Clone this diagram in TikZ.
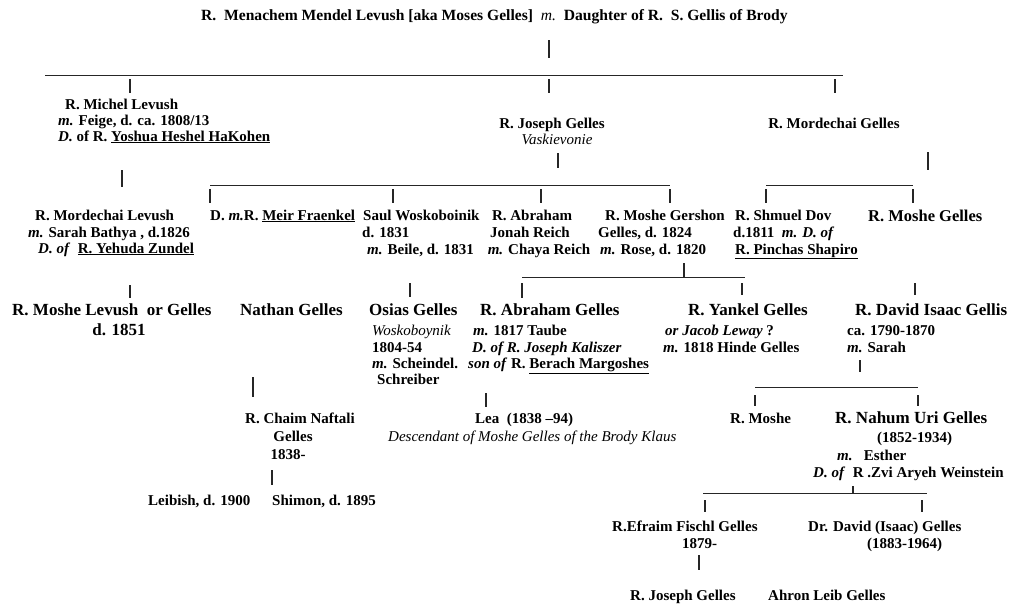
\documentclass[tikz,border=0pt]{standalone}
\usepackage{fontspec}
\setmainfont{Liberation Serif}
\newcommand{\vtk}[4]{\coordinate (#1t) at (#2,#3); \coordinate (#1b) at (#2,#4); \draw[tk] (#1t) -- (#1b);}
\newcommand{\hln}[4]{\coordinate (#1l) at (#2,#4); \coordinate (#1r) at (#3,#4); \draw[ln] (#1l) -- (#1r);}
\begin{document}
\begin{tikzpicture}[x=1pt,y=-1pt,
  t/.style={anchor=base west, inner sep=0pt, font=\fontsize{15}{18}\selectfont\bfseries},
  tc/.style={anchor=base, inner sep=0pt, font=\fontsize{15}{18}\selectfont\bfseries},
  big/.style={anchor=base west, inner sep=0pt, font=\fontsize{17}{20}\selectfont\bfseries},
  bigc/.style={anchor=base, inner sep=0pt, font=\fontsize{17}{20}\selectfont\bfseries},
  it/.style={anchor=base west, inner sep=0pt, font=\fontsize{15}{18}\selectfont\itshape},
  ln/.style={line width=0.8pt, black!85},
  tk/.style={line width=1.2pt, black!85}]
\useasboundingbox (0,0) rectangle (1011,605);

% ---- generation 0
\node[t, font=\fontsize{15.6}{18}\selectfont\bfseries] (title) at (201,20) {R.\ \ Menachem Mendel Levush [aka Moses Gelles]\ \ \textit{\mdseries m.}\ \ Daughter of R.\ \ S. Gellis of Brody};
\vtk{v0}{549}{40}{58}
\hln{h1}{45}{843}{75}
\vtk{v1a}{130}{79}{93}
\vtk{v1b}{549}{79}{93}
\vtk{v1c}{835}{79}{93}

% ---- generation 1
\node[t] (mi1) at (65,109) {R. Michel Levush};
\node[t] (mi2) at (58,125) {\textit{m.} Feige, d. ca. 1808/13};
\node[t] (mi3) at (58,141) {\textit{D.} of R. \underline{Yoshua Heshel HaKohen}};
\node[tc] (jo1) at (552,128) {R. Joseph Gelles};
\node[tc, font=\fontsize{15}{18}\selectfont\itshape] (jo2) at (557,144) {Vaskievonie};
\node[tc] (mo1) at (834,128) {R. Mordechai Gelles};

\vtk{v2a}{122}{170}{187}
\vtk{v2b}{558}{153}{168}
\vtk{v2c}{928}{152}{170}
\hln{h2}{210}{670}{185}
\vtk{v3a}{210}{189}{203}
\vtk{v3b}{393}{189}{203}
\vtk{v3c}{541}{189}{203}
\vtk{v3d}{670}{189}{203}
\hln{h3}{766}{913}{185}
\vtk{v3e}{766}{189}{203}
\vtk{v3f}{913}{189}{203}

% ---- generation 2
\node[t] (ml1) at (35,220) {R. Mordechai Levush};
\node[t] (ml2) at (28,237) {\textit{m.} Sarah Bathya , d.1826};
\node[t] (ml3) at (38,253) {\textit{D. of}\ \ \underline{R. Yehuda Zundel}};
\node[t] (dm) at (210,220) {D. \textit{m.}R. \underline{Meir Fraenkel}};
\node[t] (sa1) at (363,220) {Saul Woskoboinik};
\node[t] (sa2) at (362,237) {d. 1831};
\node[t] (sa3) at (367,254) {\textit{m.} Beile, d. 1831};
\node[tc] (ab1) at (532,220) {R. Abraham};
\node[tc] (ab2) at (530,237) {Jonah Reich};
\node[tc] (ab3) at (539,254) {\textit{m.} Chaya Reich};
\node[t] (ge1) at (605,220) {R. Moshe Gershon};
\node[t] (ge2) at (598,237) {Gelles, d. 1824};
\node[t] (ge3) at (600,254) {\textit{m.} Rose, d. 1820};
\node[t] (sd1) at (735,220) {R. Shmuel Dov};
\node[t] (sd2) at (733,237) {d.1811\ \ \textit{m. D. of}};
\node[t] (sd3) at (735,254) {\underline{R. Pinchas Shapiro}};
\node[t, font=\fontsize{16.5}{19}\selectfont\bfseries] (mg) at (868,221) {R. Moshe Gelles};

\vtk{v4a}{130}{285}{298}
\vtk{v4b}{410}{283}{297}
\vtk{v4c}{684}{263}{277}
\hln{h4}{522}{745}{277}
\vtk{v4d}{522}{283}{298}
\vtk{v4e}{742}{283}{295}
\vtk{v4f}{915}{283}{295}

% ---- generation 3
\node[big] (rm1) at (12,315) {R. Moshe Levush\ \ or Gelles};
\node[bigc] (rm2) at (119,335) {d. 1851};
\node[big] (na) at (240,315) {Nathan Gelles};
\node[big] (os1) at (369,315) {Osias Gelles};
\node[it] (os2) at (372,335) {Woskoboynik};
\node[t] (os3) at (372,352) {1804-54};
\node[t] (os4) at (372,368) {\textit{m.} Scheindel.};
\node[t] (os5) at (377,384) {Schreiber};
\node[big] (ag1) at (480,315) {R. Abraham Gelles};
\node[t] (ag2) at (473,335) {\textit{m.} 1817 Taube};
\node[t] (ag3) at (472,352) {\textit{D. of R. Joseph Kaliszer}};
\node[t] (ag4) at (468,368) {\textit{son of} R. \underline{Berach Margoshes}};
\node[big] (yk1) at (688,315) {R. Yankel Gelles};
\node[t] (yk2) at (665,335) {\textit{or Jacob Leway} ?};
\node[t] (yk3) at (663,352) {\textit{m.} 1818 Hinde Gelles};
\node[big] (dv1) at (855,315) {R. David Isaac Gellis};
\node[t] (dv2) at (847,335) {ca. 1790-1870};
\node[t] (dv3) at (847,352) {\textit{m.} Sarah};

\vtk{v5a}{253}{377}{397}
\vtk{v5b}{486}{393}{407}
\vtk{v5c}{860}{360}{372}
\hln{h5}{755}{918}{387}
\vtk{v5d}{755}{395}{406}
\vtk{v5e}{918}{395}{406}

% ---- generation 4
\node[t] (ch1) at (245,423) {R. Chaim Naftali};
\node[tc] (ch2) at (293,441) {Gelles};
\node[tc] (ch3) at (288,459) {1838-};
\node[t] (lea) at (475,423) {Lea\ \ (1838 --94)};
\node[it] (desc) at (388,441) {Descendant of Moshe Gelles of the Brody Klaus};
\node[t] (rmo) at (730,423) {R. Moshe};
\node[big] (nu1) at (835,423) {R. Nahum Uri Gelles};
\node[t] (nu2) at (877,442) {(1852-1934)};
\node[t] (nu3) at (837,460) {\textit{m.}\ \ \ Esther};
\node[t] (nu4) at (813,477) {\textit{D. of}\ \ R .Zvi Aryeh Weinstein};

\vtk{v6a}{272}{470}{485}
\vtk{v6b}{853}{486}{493}
\hln{h6}{703}{927}{493}
\vtk{v6c}{705}{500}{512}
\vtk{v6d}{922}{500}{512}

% ---- generation 5
\node[t] (le) at (148,505) {Leibish, d. 1900};
\node[t] (sh) at (272,505) {Shimon, d. 1895};
\node[t] (ef1) at (612,531) {R.Efraim Fischl Gelles};
\node[t] (ef2) at (682,548) {1879-};
\node[t] (dd1) at (808,531) {Dr. David (Isaac) Gelles};
\node[t] (dd2) at (867,548) {(1883-1964)};

\vtk{v7a}{699}{555}{570}

\node[t] (rj) at (630,600) {R. Joseph Gelles};
\node[t] (ah) at (768,600) {Ahron Leib Gelles};
\end{tikzpicture}
\end{document}
